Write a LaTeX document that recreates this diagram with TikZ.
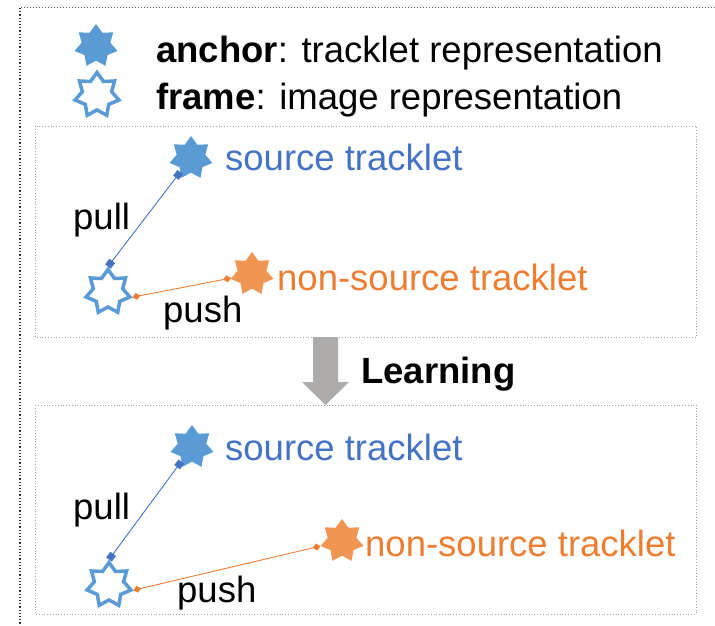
\documentclass[tikz,border=0pt]{standalone}
\usepackage{fontspec}
\setmainfont{Liberation Sans}
\usetikzlibrary{shapes.geometric,arrows.meta}
\definecolor{starblue}{HTML}{5B9BD5}
\definecolor{textblue}{HTML}{4472C4}
\definecolor{textorange}{HTML}{ED7D31}
\definecolor{starorange}{HTML}{F09552}
\definecolor{arrowgray}{HTML}{AEABAB}
\definecolor{boxgray}{HTML}{A0A0A0}
\tikzset{
  anchorstar/.style={star, star points=7, star point ratio=1.5, minimum size=44pt, inner sep=0pt, draw=none},
  bluestar/.style={anchorstar, fill=starblue},
  orangestar/.style={anchorstar, fill=starorange},
  framestar/.style={star, star points=7, star point ratio=1.5, minimum size=45pt, inner sep=0pt, draw=starblue, line width=3.5pt, fill=white},
  lbl/.style={anchor=base west, inner sep=0pt, font=\fontsize{36.5}{40}\selectfont},
  panel/.style={draw=boxgray, dotted, line width=0.8pt},
  pullline/.style={textblue, line width=0.9pt, {Square[length=7pt,width=7pt]}-{Square[length=7pt,width=7pt]}},
  pushline/.style={textorange, line width=0.9pt, {Turned Square[length=8pt,width=7pt]}-{Turned Square[length=8pt,width=7pt]}},
}
\begin{document}
\begin{tikzpicture}[x=1pt,y=-1pt]
\useasboundingbox (0,0) rectangle (715,626);
% outer frame
\draw[gray!40!black, dotted, line width=1.2pt] (20,8) -- (20,626);
\draw[gray!70!black, dotted, line width=1pt] (715,8) -- (20,8);
% panels
\draw[panel] (35,126) rectangle (696,337);
\draw[panel] (35,405) rectangle (696,614);
% legend
\node[bluestar] (legA) at (96,46) {};
\node[framestar] (legF) at (97,95) {};
\node[lbl] (legAt) at (156,63) {\textbf{anchor}: tracklet representation};
\node[lbl] (legFt) at (156,109) {\textbf{frame}: image representation};
% top panel
\node[bluestar] (srcA) at (191,158) {};
\node[orangestar] (nsA) at (252,274) {};
\node[framestar] (frA) at (108,292) {};
\node[lbl, textblue] (srcAt) at (225,170) {source tracklet};
\node[lbl, textorange] (nsAt) at (277,290) {non-source tracklet};
\node[lbl] (pullA) at (73,229) {pull};
\node[lbl] (pushA) at (163,322) {push};
\draw[pullline] (frA.north) -- (srcA);
\draw[pushline] (frA.-12) -- (nsA);
% learning arrow
\fill[arrowgray] (313,337) -- (338,337) -- (338,382) -- (349,382) -- (325.5,405) -- (302,382) -- (313,382) -- cycle;
\node[lbl, font=\fontsize{36.5}{40}\selectfont\bfseries] (learn) at (361,383) {Learning};
% bottom panel
\node[bluestar] (srcB) at (192,447) {};
\node[orangestar] (nsB) at (342,541) {};
\node[framestar] (frB) at (109,585) {};
\node[lbl, textblue] (srcBt) at (225,460) {source tracklet};
\node[lbl, textorange] (nsBt) at (365,556) {non-source tracklet};
\node[lbl] (pullB) at (73,519) {pull};
\node[lbl] (pushB) at (177,602) {push};
\draw[pullline] (frB.north) -- (srcB);
\draw[pushline] (frB.-12) -- (nsB);
\end{tikzpicture}
\end{document}
